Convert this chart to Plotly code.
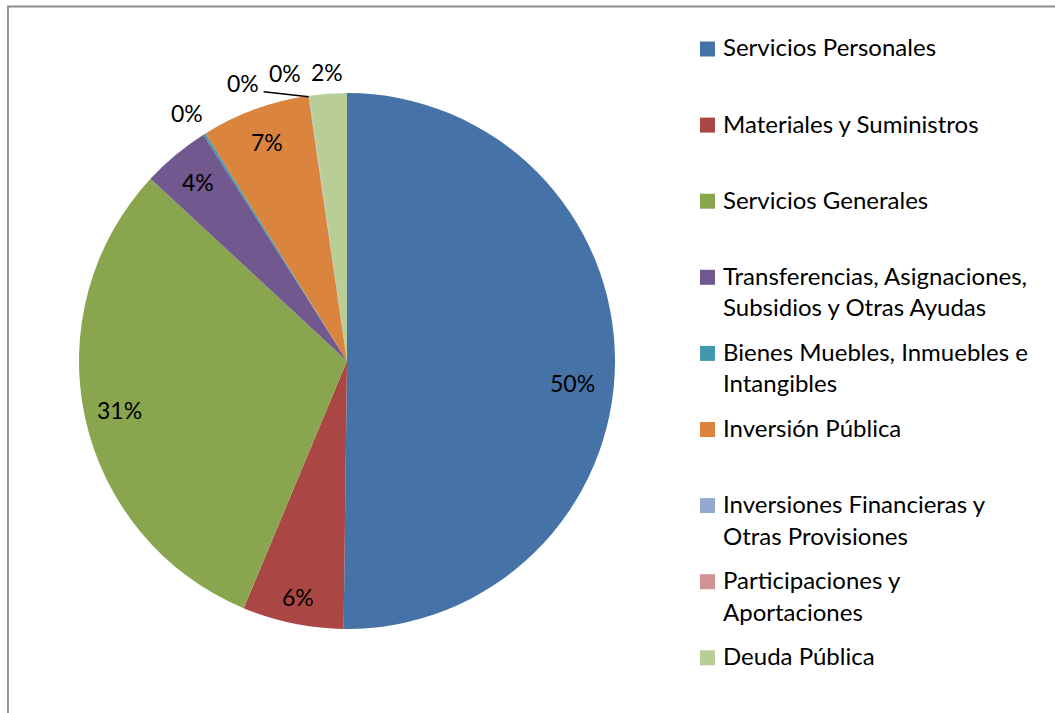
import math
import plotly.graph_objects as go

# ---- data ----
categories = [
    "Servicios Personales",
    "Materiales y Suministros",
    "Servicios Generales",
    "Transferencias, Asignaciones, Subsidios y Otras Ayudas",
    "Bienes Muebles, Inmuebles e Intangibles",
    "Inversión Pública",
    "Inversiones Financieras y Otras Provisiones",
    "Participaciones y Aportaciones",
    "Deuda Pública",
]
values = [50.2, 6.1, 30.6, 4.1, 0.15, 6.55, 0.03, 0.02, 2.25]
legend_lines = [
    ["Servicios Personales"],
    ["Materiales y Suministros"],
    ["Servicios Generales"],
    ["Transferencias, Asignaciones,", "Subsidios y Otras Ayudas"],
    ["Bienes Muebles, Inmuebles e", "Intangibles"],
    ["Inversión Pública"],
    ["Inversiones Financieras y", "Otras Provisiones"],
    ["Participaciones y", "Aportaciones"],
    ["Deuda Pública"],
]
colors = ["#4572A7", "#AA4643", "#89A54E", "#71588F", "#4198AF",
          "#DB843D", "#93A9CF", "#D19392", "#B9CD96"]

# ---- layout constants (pixels) ----
W, H = 1055, 713
CX, CY, R = 347, 361, 268
FONT = "Lato"

def px(x):
    return x / W

def py(y):
    return 1 - y / H

fig = go.Figure(go.Pie(
    labels=categories,
    values=values,
    sort=False,
    direction="clockwise",
    rotation=0,
    marker=dict(colors=colors, line=dict(width=0)),
    textinfo="none",
    hoverinfo="label+percent",
    showlegend=False,
    domain=dict(x=[px(CX - R), px(CX + R)], y=[py(CY + R), py(CY - R)]),
))

# ---- data labels (positions derived from slice angles) ----
total = sum(values)
rad = [0.84, 0.9, 0.87, 0.87, 1.1, 0.87, 1.0, 1.08, 1.08]
nudge = [(0, 21), (0, 0), (0, 0), (0, 0), (-3, 2), (0, 0), (-66, -13), (-21, -1), (0, 0)]

annotations = []
shapes = []
cum = 0.0
for i, v in enumerate(values):
    start = cum / total * 360
    cum += v
    end = cum / total * 360
    mid = math.radians((start + end) / 2)
    r = R * rad[i]
    x = CX + r * math.sin(mid) + nudge[i][0]
    y = CY - r * math.cos(mid) + nudge[i][1]
    pct = f"{round(v / total * 100)}%"
    annotations.append(dict(
        x=px(x), y=py(y), xref="paper", yref="paper", text=pct,
        showarrow=False, xanchor="center", yanchor="middle",
        font=dict(family=FONT, size=23, color="#000000"),
    ))
    if i == 6:
        ex = CX + R * math.sin(mid)
        ey = CY - R * math.cos(mid)
        shapes.append(dict(type="line", xref="paper", yref="paper",
                           x0=px(ex), y0=py(ey + 1), x1=px(x + 21), y1=py(y + 9),
                           line=dict(color="#000000", width=1.3)))

# ---- legend drawn manually ----
LX, LY0, LSTEP, LLINE = 700, 47, 76.1, 31.5
for i, lines in enumerate(legend_lines):
    yc = LY0 + LSTEP * i
    shapes.append(dict(type="rect", xref="paper", yref="paper",
                       x0=px(LX), x1=px(LX + 15), y0=py(yc + 9.5), y1=py(yc - 5.5),
                       fillcolor=colors[i], line=dict(width=0)))
    for j, t in enumerate(lines):
        annotations.append(dict(
            x=px(LX + 21), y=py(yc + j * LLINE), xref="paper", yref="paper",
            text=t, showarrow=False, xanchor="left", yanchor="middle",
            font=dict(family=FONT, size=24, color="#000000"),
        ))

# ---- frame border ----
shapes.append(dict(type="rect", xref="paper", yref="paper",
                   x0=px(8), x1=px(W + 20), y0=py(H + 20), y1=py(6.5),
                   line=dict(color="#8C8C8C", width=1.8), fillcolor="rgba(0,0,0,0)"))

fig.update_layout(
    width=W, height=H,
    margin=dict(l=0, r=0, t=0, b=0),
    paper_bgcolor="#FFFFFF",
    plot_bgcolor="#FFFFFF",
    annotations=annotations,
    shapes=shapes,
    font=dict(family=FONT),
)

fig.write_html(
    "out.html",
    config={"displayModeBar": False},
    post_script="document.body.style.margin='0px';document.body.style.overflow='hidden';",
)
